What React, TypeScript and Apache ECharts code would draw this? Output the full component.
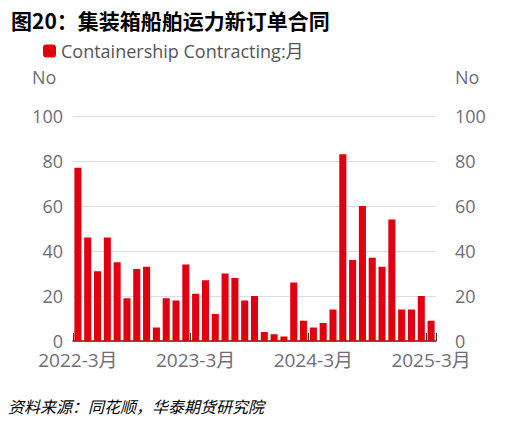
import React, { useEffect, useRef } from "react";
import * as echarts from "echarts";

const months: string[] = [];
for (let y = 2022; y <= 2025; y++) {
  for (let m = 1; m <= 12; m++) {
    if ((y === 2022 && m < 3) || (y === 2025 && m > 3)) continue;
    months.push(`${y}-${m}月`);
  }
}
const categories = months;
const contracting = [
  77, 46, 31, 46, 35, 19, 32, 33, 6, 19, 18, 34,
  21, 27, 12, 30, 28, 18, 20, 4, 3, 2, 26, 9,
  6, 8, 14, 83, 36, 60, 37, 33, 54, 14, 14, 20,
  9,
];
const yTicks = { min: 0, max: 100, interval: 20 };

const FONT = "'Open Sans', 'Noto Sans CJK SC', sans-serif";
const CJK = "'Noto Sans CJK SC', sans-serif";
const GRAY = "#6e6e78";

export default function App() {
  const ref = useRef<HTMLDivElement>(null);
  useEffect(() => {
    document.body.style.margin = "0";
    const chart = echarts.init(ref.current!, undefined, { renderer: "svg" });
    const axisLabel = { color: GRAY, fontSize: 18, fontFamily: FONT, lineHeight: 14 };
    chart.setOption({
      animation: false,
      title: {
        text: "图20：集装箱船舶运力新订单合同",
        left: 6,
        top: 4,
        textStyle: { fontSize: 21, fontWeight: "bold", color: "#000", fontFamily: CJK },
      },
      legend: {
        left: 38,
        top: 37,
        itemWidth: 13,
        itemHeight: 13,
        itemGap: 8,
        icon: "roundRect",
        textStyle: { color: "#555", fontSize: 18, fontFamily: FONT },
        data: ["Containership Contracting:月"],
      },
      grid: { left: 73, right: 83, top: 116, bottom: 85 },
      xAxis: {
        type: "category",
        data: categories,
        axisLine: { lineStyle: { color: "#333", width: 1.5 } },
        axisTick: { show: true, inside: true, length: 8, interval: 11, lineStyle: { color: "#333" } },
        axisLabel: { color: GRAY, fontSize: 19, lineHeight: 18, fontFamily: FONT, interval: 11, margin: 10 },
      },
      yAxis: [
        {
          type: "value",
          ...yTicks,
          position: "left",
          axisLine: { show: false },
          axisTick: { show: false },
          axisLabel: { ...axisLabel, margin: 10 },
          splitLine: { lineStyle: { color: "#d8dbea" } },
        },
        {
          type: "value",
          ...yTicks,
          position: "right",
          axisLine: { show: false },
          axisTick: { show: false },
          axisLabel: { ...axisLabel, margin: 19 },
          splitLine: { show: false },
        },
      ],
      series: [
        {
          name: "Containership Contracting:月",
          type: "bar",
          data: contracting,
          yAxisIndex: 0,
          barCategoryGap: "28%",
          itemStyle: { color: "#e10010" },
        },
      ],
      graphic: [
        {
          type: "text",
          left: 32,
          top: 68,
          style: { text: "No", fontSize: 18, fill: GRAY, fontFamily: FONT },
        },
        {
          type: "text",
          left: 455,
          top: 68,
          style: { text: "No", fontSize: 18, fill: GRAY, fontFamily: FONT },
        },
        {
          type: "text",
          left: 8,
          top: 398,
          style: {
            text: "资料来源：同花顺，华泰期货研究院",
            fontSize: 16,
            fontStyle: "italic",
            fill: "#000",
            fontFamily: CJK,
          },
        },
      ],
    });
    return () => chart.dispose();
  }, []);
  return <div ref={ref} style={{ width: 519, height: 426 }} />;
}
